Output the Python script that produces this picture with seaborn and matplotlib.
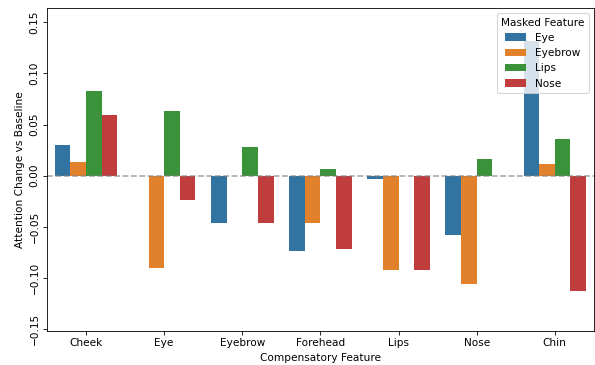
import numpy as np
import pandas as pd
import matplotlib
matplotlib.use("Agg")
import matplotlib.pyplot as plt
import seaborn as sns

# Compensatory features on the x axis
features = ["Cheek", "Eye", "Eyebrow", "Forehead", "Lips", "Nose", "Chin"]
masked = ["Eye", "Eyebrow", "Lips", "Nose"]

# Attention change per masked feature (None where the feature masks itself)
eye_vals = [0.030, None, -0.046, -0.074, -0.003, -0.058, 0.132]
eyebrow_vals = [0.013, -0.090, None, -0.046, -0.092, -0.106, 0.011]
lips_vals = [0.083, 0.063, 0.028, 0.007, None, 0.016, 0.036]
nose_vals = [0.059, -0.024, -0.046, -0.0715, -0.092, None, -0.113]

series = {"Eye": eye_vals, "Eyebrow": eyebrow_vals, "Lips": lips_vals, "Nose": nose_vals}

rows = []
for m in masked:
    for f, v in zip(features, series[m]):
        if v is not None:
            rows.append({"Compensatory Feature": f, "Masked Feature": m, "Attention Change": v})
df = pd.DataFrame(rows)

plt.rcParams["font.family"] = ["DejaVu Sans"]

DPI = 76
fig, ax = plt.subplots(figsize=(595 / DPI, 365 / DPI), dpi=DPI)
sns.barplot(data=df, x="Compensatory Feature", y="Attention Change",
            hue="Masked Feature", order=features, hue_order=masked, ax=ax)
ax.axhline(0, color="gray", linestyle="--", alpha=0.7)
ax.set_ylim(-0.152, 0.164)
ax.set_yticks([-0.15, -0.10, -0.05, 0.00, 0.05, 0.10, 0.15])
ax.set_yticklabels(["−0.15", "−0.10", "−0.05", "0.00", "0.05", "0.10", "0.15"],
                   rotation=90, va="center")
ax.set_ylabel("Attention Change vs Baseline")
ax.set_xlabel("Compensatory Feature")
ax.legend(title="Masked Feature", loc="upper right")
fig.subplots_adjust(left=0.079, right=0.998, top=0.978, bottom=0.093)
fig.savefig("out.png", dpi=DPI)
